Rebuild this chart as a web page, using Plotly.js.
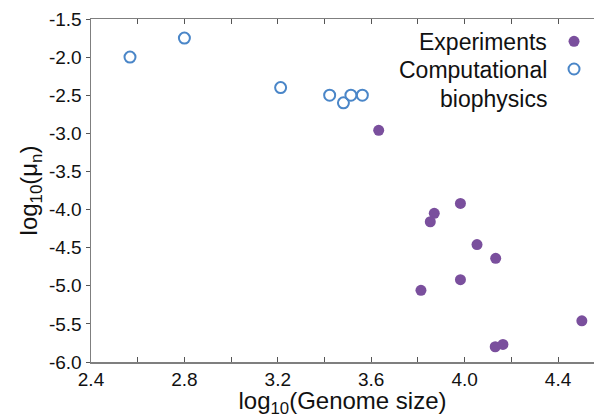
<!DOCTYPE html>
<html>
<head>
<meta charset="utf-8">
<script src="https://cdn.plot.ly/plotly-3.0.1.min.js"></script>
<style>html,body{margin:0;padding:0;background:#fff;}#chart{width:594px;height:418px;}</style>
</head>
<body>
<div id="chart"></div>
<script>
// Computational biophysics (open circles)
const compX = [2.567, 2.800, 3.212, 3.422, 3.481, 3.513, 3.562];
const compY = [-2.00, -1.75, -2.40, -2.50, -2.60, -2.50, -2.50];
// Experiments (filled circles)
const expX = [3.632, 3.982, 3.870, 3.853, 4.053, 4.133, 3.982, 3.813, 4.502, 4.131, 4.164];
const expY = [-2.96, -3.92, -4.05, -4.16, -4.46, -4.64, -4.92, -5.06, -5.46, -5.80, -5.77];

const xTickVals = [2.4, 2.6, 2.8, 3.0, 3.2, 3.4, 3.6, 3.8, 4.0, 4.2, 4.4];
const xTickText = ['2.4', '', '2.8', '', '3.2', '', '3.6', '', '4.0', '', '4.4'];
const yTickVals = [-6.0, -5.5, -5.0, -4.5, -4.0, -3.5, -3.0, -2.5, -2.0, -1.5];
const yTickText = ['-6.0', '-5.5', '-5.0', '-4.5', '-4.0', '-3.5', '-3.0', '-2.5', '-2.0', '-1.5'];

const seriesNames = ['Experiments', 'Computational', 'biophysics'];

const purple = '#7a4f9d';
const blue = '#4a86c8';
const FONT = 'Liberation Sans, Arial, sans-serif';

const traces = [
  {
    x: expX, y: expY, type: 'scatter', mode: 'markers', name: '',
    marker: {color: purple, size: 11, symbol: 'circle', line: {width: 0}},
    cliponaxis: false
  },
  {
    x: compX, y: compY, type: 'scatter', mode: 'markers', name: '',
    marker: {color: blue, size: 11, symbol: 'circle-open', line: {color: blue, width: 2}},
    cliponaxis: false
  }
];

const axisCommon = {
  showgrid: false, zeroline: false, showline: true,
  linecolor: '#7f7f7f', linewidth: 1.5,
  tickcolor: '#555', tickwidth: 1, ticklen: 5,
  tickfont: {family: FONT, size: 19, color: '#111'}
};

const layout = {
  width: 594, height: 418,
  margin: {l: 91, r: 0, t: 19, b: 56, autoexpand: false},
  paper_bgcolor: '#fff', plot_bgcolor: '#fff',
  showlegend: true,
  legend: {
    x: 1.01, xanchor: 'right', y: 0.99, yanchor: 'top',
    bgcolor: 'rgba(0,0,0,0)', font: {family: FONT, size: 19},
    tracegroupgap: 0, itemwidth: 30
  },
  xaxis: Object.assign({}, axisCommon, {
    range: [2.4, 4.554], tickmode: 'array', tickvals: xTickVals, ticktext: xTickText,
    ticks: 'inside', mirror: 'ticks',
    title: {text: 'log<sub>10</sub>(Genome size)', font: {family: FONT, size: 24, color: '#111'}, standoff: 4}
  }),
  yaxis: Object.assign({}, axisCommon, {
    range: [-6.0, -1.5], tickmode: 'array', tickvals: yTickVals, ticktext: yTickText,
    ticks: 'outside', ticklen: 4,
    title: {text: 'log<sub>10</sub>(μ<sub>n</sub>)', font: {family: FONT, size: 24, color: '#111'}, standoff: 4}
  }),
  annotations: [
    {text: seriesNames[0], xref: 'paper', yref: 'paper', x: 0.9105, y: 0.933, xanchor: 'right', yanchor: 'middle', showarrow: false, font: {family: FONT, size: 23, color: '#111'}},
    {text: seriesNames[1], xref: 'paper', yref: 'paper', x: 0.9105, y: 0.851, xanchor: 'right', yanchor: 'middle', showarrow: false, font: {family: FONT, size: 23, color: '#111'}},
    {text: seriesNames[2], xref: 'paper', yref: 'paper', x: 0.9105, y: 0.767, xanchor: 'right', yanchor: 'middle', showarrow: false, font: {family: FONT, size: 23, color: '#111'}}
  ]
};

Plotly.newPlot('chart', traces, layout, {staticPlot: true, displayModeBar: false});
</script>
</body>
</html>
